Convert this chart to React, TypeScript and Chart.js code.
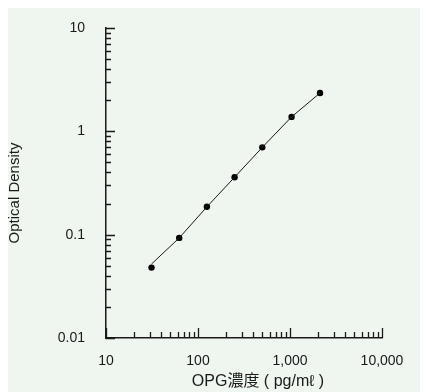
import React, { useEffect, useRef } from "react";
import { Chart, registerables } from "chart.js";

Chart.register(...registerables);

// OPG standard concentrations (pg/mℓ), as placed in the picture
const concentrations = [31.25, 62.5, 125, 250, 500, 1040, 2120];
// measured optical density at each standard
const opticalDensity = [0.048, 0.093, 0.186, 0.36, 0.7, 1.38, 2.35];
// fitted standard curve
const fitDensity = [0.052, 0.093, 0.186, 0.36, 0.7, 1.38, 2.35];

const xTickValues = [
  10, 20, 30, 40, 50, 60, 70, 80, 90,
  100, 200, 300, 400, 500, 600, 700, 800, 900,
  1000, 2000, 3000, 4000, 5000, 6000, 7000, 8000, 9000,
  10000,
];
const xTickLabels: Record<number, string> = { 10: "10", 100: "100", 1000: "1,000", 10000: "10,000" };

const yTickValues = [
  0.01, 0.02, 0.03, 0.04, 0.05, 0.06, 0.07, 0.08, 0.09,
  0.1, 0.2, 0.3, 0.4, 0.5, 0.6, 0.7, 0.8, 0.9,
  1, 2, 3, 4, 5, 6, 7, 8, 9,
  10,
];
const yTickLabels: Record<number, string> = { 0.01: "0.01", 0.1: "0.1", 1: "1", 10: "10" };

const xTitle = "OPG濃度 ( pg/mℓ )";
const yTitle = "Optical Density";

const FONT = '"Liberation Sans", Arial, "Noto Sans CJK JP", sans-serif';
const INK = "#1a1a1a";

const innerTicksAndTitles = {
  id: "innerTicksAndTitles",
  afterDraw(chart: any) {
    const ctx = chart.ctx as CanvasRenderingContext2D;
    const xs = chart.scales.x;
    const ys = chart.scales.y;
    const { left, bottom, top, right } = chart.chartArea;
    ctx.save();
    ctx.strokeStyle = INK;
    ctx.lineWidth = 1.3;
    ctx.beginPath();
    xs.ticks.forEach((t: any) => {
      const px = Math.round(xs.getPixelForValue(t.value)) + 0.5;
      const len = t.major ? 10 : 6;
      ctx.moveTo(px, bottom);
      ctx.lineTo(px, bottom - len);
    });
    ys.ticks.forEach((t: any) => {
      const py = Math.round(ys.getPixelForValue(t.value)) + 0.5;
      const len = t.major ? 9 : 5;
      ctx.moveTo(left, py);
      ctx.lineTo(left + len, py);
    });
    ctx.stroke();

    ctx.fillStyle = INK;
    ctx.textAlign = "center";
    ctx.textBaseline = "alphabetic";
    ctx.font = `16px ${FONT}`;
    ctx.fillText(xTitle, (left + right) / 2 + 14, bottom + 48);

    ctx.font = `15px ${FONT}`;
    ctx.translate(11, (top + bottom) / 2 + 10);
    ctx.rotate(-Math.PI / 2);
    ctx.fillText(yTitle, 0, 0);
    ctx.restore();
  },
};

export default function App() {
  const canvasRef = useRef<HTMLCanvasElement | null>(null);

  useEffect(() => {
    if (!canvasRef.current) return;
    const chart = new Chart(canvasRef.current, {
      type: "scatter",
      data: {
        datasets: [
          {
            type: "line",
            label: "fit",
            data: concentrations.map((c, i) => ({ x: c, y: fitDensity[i] })),
            borderColor: INK,
            borderWidth: 1,
            pointRadius: 0,
            tension: 0,
            fill: false,
          } as any,
          {
            label: "OD",
            data: concentrations.map((c, i) => ({ x: c, y: opticalDensity[i] })),
            backgroundColor: "#000000",
            borderColor: "#000000",
            borderWidth: 0,
            pointRadius: 3.2,
          },
        ],
      },
      options: {
        animation: false,
        responsive: false,
        maintainAspectRatio: false,
        layout: { padding: { top: 20, right: 46, left: 0, bottom: 0 } },
        plugins: {
          legend: { display: false },
          tooltip: { enabled: false },
          title: { display: false },
        },
        scales: {
          x: {
            type: "logarithmic",
            min: 10,
            max: 10000,
            afterBuildTicks: (scale: any) => {
              scale.ticks = xTickValues.map((v) => ({ value: v, major: v in xTickLabels }));
            },
            afterFit: (scale: any) => {
              scale.height = 54;
              scale.paddingLeft = 0;
              scale.paddingRight = 0;
            },
            grid: { display: false, drawTicks: false },
            border: { display: true, color: INK, width: 1.5 },
            ticks: {
              autoSkip: false,
              maxRotation: 0,
              padding: 15,
              color: INK,
              font: { family: FONT, size: 14 },
              callback: (v: any) => xTickLabels[Number(v)] ?? "",
            },
          },
          y: {
            type: "logarithmic",
            min: 0.01,
            max: 10,
            afterBuildTicks: (scale: any) => {
              scale.ticks = yTickValues.map((v) => ({ value: v, major: v in yTickLabels }));
            },
            afterFit: (scale: any) => {
              scale.width = 98;
              scale.paddingTop = 0;
              scale.paddingBottom = 0;
            },
            grid: { display: false, drawTicks: false },
            border: { display: true, color: INK, width: 1.5 },
            ticks: {
              autoSkip: false,
              padding: 21,
              color: INK,
              font: { family: FONT, size: 14 },
              callback: (v: any) => yTickLabels[Number(v)] ?? "",
            },
          },
        },
      },
      plugins: [innerTicksAndTitles],
    });
    return () => chart.destroy();
  }, []);

  return (
    <div style={{ width: 420, height: 384, background: "#EFF5EF" }}>
      <canvas ref={canvasRef} width={420} height={384} style={{ display: "block", width: 420, height: 384 }} />
    </div>
  );
}
